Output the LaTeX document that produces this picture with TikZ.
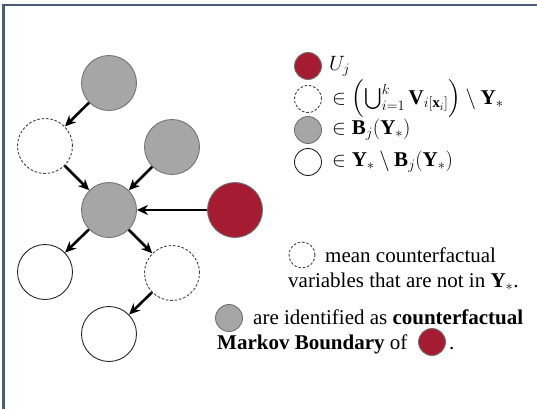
\documentclass[tikz,border=0pt]{standalone}
\usepackage{amsmath,amssymb}
\usepackage{fontspec}
\setmainfont{Liberation Serif}
\usepackage{tikz}
\usetikzlibrary{arrows.meta,positioning}
\definecolor{ured}{RGB}{165,28,50}
\definecolor{bgray}{RGB}{166,166,166}
\definecolor{frame}{RGB}{74,92,118}

\begin{document}
\begin{tikzpicture}[x=1pt,y=-1pt,
	bnd/.style={circle,draw=black!55,fill=bgray,line width=0.9pt,minimum size=55pt,inner sep=0pt},
	cf/.style={circle,draw=black!75,dash pattern=on 2.6pt off 1.8pt,line width=0.9pt,minimum size=55pt,inner sep=0pt},
	obs/.style={circle,draw=black!85,fill=white,line width=0.9pt,minimum size=55pt,inner sep=0pt},
	conf/.style={circle,draw=black!55,fill=ured,line width=0.9pt,minimum size=55pt,inner sep=0pt},
	sml/.style={minimum size=27pt},
	arr/.style={-{Stealth[length=11pt,width=10pt]},line width=2.6pt},
	txt/.style={inner sep=0pt,font=\fontsize{21}{25}\selectfont}]

	\useasboundingbox (0,0) rectangle (537,409);
	\draw[frame,line width=2.5pt] (3.5,409) -- (3.5,5) -- (537,5);

	% graph
	\node[bnd]  (g1) at (109,83)  {};
	\node[cf]   (d1) at (45,146)  {};
	\node[bnd]  (g2) at (172,147) {};
	\node[bnd]  (g3) at (109,210) {};
	\node[conf] (u)  at (235,210) {};
	\node[obs]  (w1) at (45,272)  {};
	\node[cf]   (d2) at (172,273) {};
	\node[obs]  (w2) at (109,334) {};

	\draw[arr] (g1)--(d1);
	\draw[arr] (d1)--(g3); \draw[arr] (g2)--(g3);
	\draw[arr] (u)--(g3);
	\draw[arr] (g3)--(w1); \draw[arr] (g3)--(d2);
	\draw[arr] (d2)--(w2);

	% legend
	\node[conf,sml] (lu) at (308,66)  {};
	\node[cf,sml]   (ld) at (308,99)  {};
	\node[bnd,sml]  (lg) at (308,130) {};
	\node[obs,sml]  (lw) at (308,162) {};
	\node[txt,anchor=west] (tu) at (329,66)  {$U_j$};
	\node[txt,anchor=west] (td) at (332,99)  {$\in \left(\bigcup_{i=1}^{k}\mathbf{V}_{i[\mathbf{x}_i]}\right)\setminus\mathbf{Y}_*$};
	\node[txt,anchor=west] (tg) at (332,130) {$\in \mathbf{B}_j(\mathbf{Y}_*)$};
	\node[txt,anchor=west] (tw) at (332,162) {$\in \mathbf{Y}_*\setminus\mathbf{B}_j(\mathbf{Y}_*)$};

	\node[cf,sml,minimum size=26pt] (nd) at (302,255) {};
	\node[txt,anchor=base west] (n1) at (325,262) {mean counterfactual};
	\node[txt,anchor=base west] (n2) at (288,287) {variables that are not in $\mathbf{Y}_*$.};

	\node[bnd,sml] (ng) at (229,318) {};
	\node[txt,anchor=base west] (m1) at (253,324) {are identified as \textbf{counterfactual}};
	\node[txt,anchor=base west] (m2) at (217,349) {\textbf{Markov Boundary} of};
	\node[conf,sml] (nu) at (432,342) {};
	\node[txt,anchor=base west] (m3) at (449,349) {.};
\end{tikzpicture}
\end{document}
